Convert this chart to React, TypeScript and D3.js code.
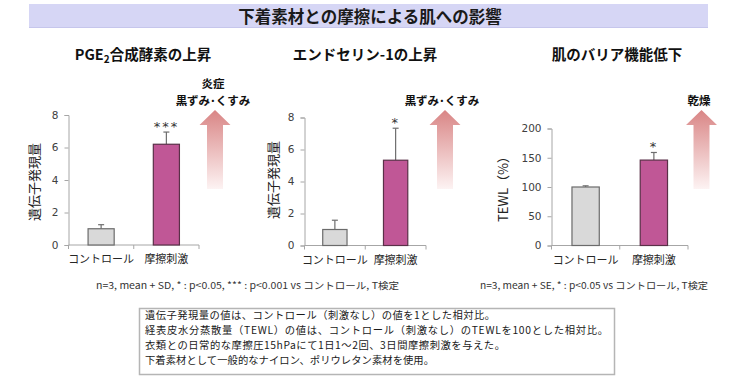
import React, { useEffect, useRef } from "react";
import * as d3 from "d3";

// ---- data ----
const categories = ["コントロール", "摩擦刺激"];
const pgeMeans = [1.0, 6.2];
const pgeErrors = [0.25, 0.75];
const pgeSig = ["", "***"];
const et1Means = [1.0, 5.33];
const et1Errors = [0.58, 2.0];
const et1Sig = ["", "*"];
const tewlMeans = [100, 146];
const tewlErrors = [2, 13];
const tewlSig = ["", "*"];
const geneTicks = [0, 2, 4, 6, 8];
const tewlTicks = [0, 50, 100, 150, 200];

const titleText = "下着素材との摩擦による肌への影響";
const noteLeft = "n=3, mean + SD, * : p<0.05, *** : p<0.001 vs コントロール, T検定";
const noteRight = "n=3, mean + SE, * : p<0.05 vs コントロール, T検定";
const boxLines = [
  "遺伝子発現量の値は、コントロール（刺激なし）の値を1とした相対比。",
  "経表皮水分蒸散量（TEWL）の値は、コントロール（刺激なし）のTEWLを100とした相対比。",
  "衣類との日常的な摩擦圧15hPaにて1日1～2回、3日間摩擦刺激を与えた。",
  "下着素材として一般的なナイロン、ポリウレタン素材を使用。",
];
const boxLineWidths = [350, 463, 360, 289];

const JP = "'Noto Sans CJK JP', 'Noto Sans', sans-serif";
const NUM = "'DejaVu Sans', Verdana, sans-serif";

interface Panel {
  means: number[];
  errors: number[];
  sig: string[];
  ticks: number[];
  x0: number; x1: number; yb: number; yt: number;
  title: string; titleX: number;
  yLabel: string; yLabelX: number; yLabelY: number;
  arrowX: number; arrowLabels: string[]; arrowLabelX: number;
}

const panels: Panel[] = [
  {
    means: pgeMeans, errors: pgeErrors, sig: pgeSig, ticks: geneTicks,
    x0: 68.5, x1: 199, yb: 245, yt: 115,
    title: "PGE2", titleX: 143,
    yLabel: "遺伝子発現量", yLabelX: 33, yLabelY: 182,
    arrowX: 215, arrowLabels: ["炎症", "黒ずみ･くすみ"], arrowLabelX: 213,
  },
  {
    means: et1Means, errors: et1Errors, sig: et1Sig, ticks: geneTicks,
    x0: 304.5, x1: 426, yb: 245.5, yt: 117.5,
    title: "エンドセリン-1の上昇", titleX: 365,
    yLabel: "遺伝子発現量", yLabelX: 272, yLabelY: 180,
    arrowX: 445, arrowLabels: ["黒ずみ･くすみ"], arrowLabelX: 442,
  },
  {
    means: tewlMeans, errors: tewlErrors, sig: tewlSig, ticks: tewlTicks,
    x0: 551.5, x1: 688, yb: 245.5, yt: 128.5,
    title: "肌のバリア機能低下", titleX: 617,
    yLabel: "TEWL（%）", yLabelX: 502, yLabelY: 186,
    arrowX: 701.5, arrowLabels: ["乾燥"], arrowLabelX: 699,
  },
];

const barColors = ["#d9d9d9", "#c05796"];
const barStrokes = ["#6b6b6b", "#5a3048"];

export default function App() {
  const ref = useRef<SVGSVGElement | null>(null);

  useEffect(() => {
    const svg = d3.select(ref.current);
    svg.selectAll("*").remove();

    const defs = svg.append("defs");
    const grad = defs.append("linearGradient").attr("id", "arrowGrad")
      .attr("x1", 0).attr("y1", 0).attr("x2", 0).attr("y2", 1);
    grad.append("stop").attr("offset", "0%").attr("stop-color", "#d98585");
    grad.append("stop").attr("offset", "100%").attr("stop-color", "#fdf3f3");

    // banner
    svg.append("rect").attr("x", 29).attr("y", 4).attr("width", 679).attr("height", 24)
      .attr("fill", "#d6d6f5");
    svg.append("line").attr("x1", 29).attr("x2", 708).attr("y1", 27.5).attr("y2", 27.5)
      .attr("stroke", "#c6c6ec").attr("stroke-width", 1);
    svg.append("text").attr("x", 370).attr("y", 23).attr("text-anchor", "middle")
      .attr("font-family", JP).attr("font-weight", "bold").attr("font-size", 16.5)
      .attr("fill", "#1a1a1a").text(titleText);

    panels.forEach((p) => {
      const g = svg.append("g");
      const x = d3.scaleBand<string>().domain(categories).range([p.x0, p.x1])
        .paddingInner(0.6).paddingOuter(0.3);
      const y = d3.scaleLinear().domain([p.ticks[0], p.ticks[p.ticks.length - 1]])
        .range([p.yb, p.yt]);

      // title
      const t = g.append("text").attr("x", p.titleX).attr("y", 60)
        .attr("text-anchor", "middle").attr("font-family", JP)
        .attr("font-weight", "bold").attr("font-size", 14.5).attr("fill", "#111");
      if (p.title === "PGE2") {
        t.append("tspan").text("PGE");
        t.append("tspan").attr("font-size", 10).attr("dy", 3).text("2");
        t.append("tspan").attr("dy", -3).text("合成酵素の上昇");
      } else {
        t.text(p.title);
      }

      // y axis
      const ya = g.append("g").attr("transform", `translate(${p.x0},0)`)
        .call(d3.axisLeft(y).tickValues(p.ticks).tickSize(4).tickPadding(6).tickFormat(d3.format("d")));
      ya.select(".domain").attr("stroke", "#a6a6a6");
      ya.selectAll(".tick line").attr("stroke", "#a6a6a6");
      ya.selectAll(".tick text").attr("font-family", NUM).attr("font-size", 10.5).attr("fill", "#404040");

      // x axis
      const xa = g.append("g").attr("transform", `translate(0,${p.yb})`);
      xa.append("line").attr("x1", p.x0).attr("x2", p.x1).attr("y1", 0).attr("y2", 0)
        .attr("stroke", "#a6a6a6");
      const mid = (x(categories[0])! + x.bandwidth() + x(categories[1])!) / 2;
      [p.x0, mid, p.x1].forEach((tx) => {
        xa.append("line").attr("x1", tx).attr("x2", tx).attr("y1", 0).attr("y2", 4)
          .attr("stroke", "#a6a6a6");
      });
      categories.forEach((c) => {
        xa.append("text").attr("x", x(c)! + x.bandwidth() / 2).attr("y", 18)
          .attr("text-anchor", "middle").attr("font-family", JP).attr("font-size", 11)
          .attr("fill", "#262626").text(c);
      });

      // y label
      g.append("text").attr("transform", `translate(${p.yLabelX},${p.yLabelY}) rotate(-90)`)
        .attr("text-anchor", "middle").attr("dominant-baseline", "central")
        .attr("font-family", JP).attr("font-size", 13).attr("fill", "#222").text(p.yLabel);

      // bars
      categories.forEach((c, i) => {
        const bx = x(c)!;
        const bw = x.bandwidth();
        const top = y(p.means[i]);
        const errTop = y(p.means[i] + p.errors[i]);
        const cx = bx + bw / 2;
        g.append("line").attr("x1", cx).attr("x2", cx).attr("y1", top).attr("y2", errTop)
          .attr("stroke", "#6e6e6e").attr("stroke-width", 1.2);
        g.append("line").attr("x1", cx - 3).attr("x2", cx + 3).attr("y1", errTop).attr("y2", errTop)
          .attr("stroke", "#6e6e6e").attr("stroke-width", 1.2);
        g.append("rect").attr("x", bx).attr("y", top).attr("width", bw)
          .attr("height", p.yb - top).attr("fill", barColors[i])
          .attr("stroke", barStrokes[i]).attr("stroke-width", 1.2);
        if (p.sig[i]) {
          g.append("text").attr("x", cx).attr("y", errTop - 1).attr("text-anchor", "middle")
            .attr("font-family", NUM).attr("font-size", 13).attr("letter-spacing", 2)
            .attr("fill", "#333").text(p.sig[i]);
        }
      });

      // arrow
      const ax = p.arrowX;
      const aTop = 110, aBase = 125, aBot = 189;
      const arrow = d3.path();
      arrow.moveTo(ax, aTop);
      arrow.lineTo(ax + 15.5, aBase);
      arrow.lineTo(ax + 8, aBase);
      arrow.lineTo(ax + 8, aBot);
      arrow.lineTo(ax - 8, aBot);
      arrow.lineTo(ax - 8, aBase);
      arrow.lineTo(ax - 15.5, aBase);
      arrow.closePath();
      g.append("path").attr("d", arrow.toString()).attr("fill", "url(#arrowGrad)");
      const n = p.arrowLabels.length;
      p.arrowLabels.forEach((lbl, k) => {
        g.append("text").attr("x", p.arrowLabelX).attr("y", 105 - (n - 1 - k) * 17)
          .attr("text-anchor", "middle").attr("font-family", JP).attr("font-weight", "bold")
          .attr("font-size", 11.5).attr("fill", "#111").text(lbl);
      });
    });

    // footnotes
    svg.append("text").attr("x", 96).attr("y", 289).attr("font-family", JP)
      .attr("font-size", 9.5).attr("fill", "#333").text(noteLeft)
      .attr("textLength", 303).attr("lengthAdjust", "spacingAndGlyphs");
    svg.append("text").attr("x", 480).attr("y", 289).attr("font-family", JP)
      .attr("font-size", 9.5).attr("fill", "#333").text(noteRight)
      .attr("textLength", 228).attr("lengthAdjust", "spacingAndGlyphs");

    // box
    svg.append("rect").attr("x", 139.5).attr("y", 308.5).attr("width", 475).attr("height", 66)
      .attr("fill", "#fff").attr("stroke", "#b5b5b5").attr("stroke-width", 1.5);
    boxLines.forEach((l, i) => {
      svg.append("text").attr("x", 145).attr("y", 318.5 + i * 15).attr("font-family", JP)
        .attr("font-size", 10.3).attr("fill", "#1a1a1a")
        .attr("textLength", boxLineWidths[i]).attr("lengthAdjust", "spacing")
        .text(l);
    });
  }, []);

  return (
    <svg ref={ref} width={740} height={380}
      style={{ position: "absolute", left: 0, top: 0, background: "#fff" }} />
  );
}
